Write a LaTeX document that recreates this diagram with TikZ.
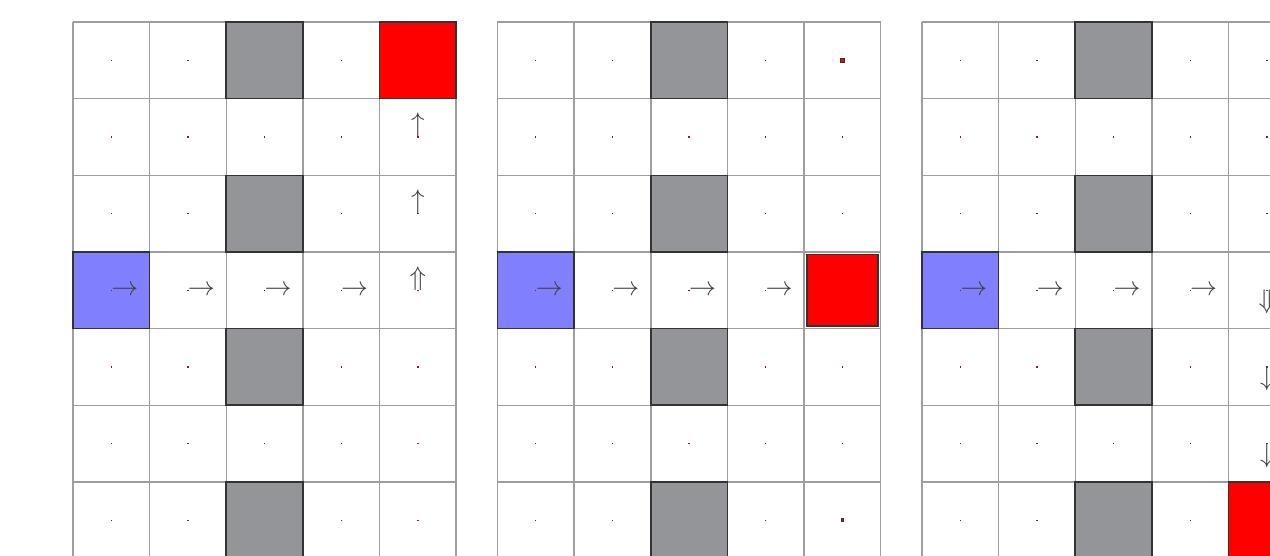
\documentclass[tikz,border=0pt]{standalone}
\begin{document}
\definecolor{wallgray}{HTML}{939598}
\definecolor{startblue}{HTML}{8080FF}
\definecolor{goalred}{HTML}{FF0000}
\definecolor{dotred}{HTML}{8B1A1A}
\begin{tikzpicture}[x=1cm,y=1cm,
  gridline/.style={draw=black!38, line width=0.55pt},
  cellbox/.style={minimum size=1cm, inner sep=0pt, outer sep=0pt, draw=black!80, line width=0.6pt},
  wall/.style={cellbox, fill=wallgray},
  startcell/.style={cellbox, fill=startblue},
  goalcell/.style={cellbox, fill=goalred},
  goalsmall/.style={cellbox, fill=goalred, minimum size=0.93cm},
  goaldot/.style={fill=goalred, draw=black!80, line width=0.3pt, inner sep=0pt, outer sep=0pt, minimum size=0.05cm},
  valdot/.style={fill=dotred, inner sep=0pt, outer sep=0pt, minimum size=0.018cm},
  arr/.style={inner sep=0pt, outer sep=0pt, text=black!75}
]
\useasboundingbox (-0.952,0.287) rectangle (15.617,-6.954);
\foreach \g in {0,1,2} {
  \begin{scope}[xshift=\g*5.538cm]
    \draw[gridline] (0,-7) grid (5,0);
    % value dots
    \foreach \c in {0,1,3,4} {
      \foreach \r in {0,...,6} {
        \node[valdot] (g\g d\c\r) at (\c+0.5,-\r-0.5) {};
      }
    }
    \foreach \r in {1,3,5} {
      \node[valdot] (g\g d2\r) at (2.5,-\r-0.5) {};
    }
    % walls
    \foreach \r in {0,2,4,6} {
      \node[wall] (g\g w\r) at (2.5,-\r-0.5) {};
    }
    % start
    \node[startcell] (g\g s) at (0.5,-3.5) {};
    \node[valdot] (g\g sd) at (0.5,-3.5) {};
    % right arrows
    \foreach \c in {0,...,3} {
      \node[arr, anchor=west] (g\g a\c) at (\c+0.5,-3.5) {$\rightarrow$};
    }
  \end{scope}
}
% grid 1
\node[goalcell] (g0goal) at (4.5,-0.5) {};
\node[arr, anchor=south] (g0u1) at (4.5,-1.5) {$\uparrow$};
\node[arr, anchor=south] (g0u2) at (4.5,-2.5) {$\uparrow$};
\node[arr, anchor=south] (g0u3) at (4.5,-3.5) {$\Uparrow$};
% grid 2
\begin{scope}[xshift=5.538cm]
  \node[goalsmall] (g1goal) at (4.5,-3.5) {};
  \node[goaldot] (g1top) at (4.5,-0.5) {};
  \node[goaldot, minimum size=0.035cm] (g1bot) at (4.5,-6.5) {};
\end{scope}
% grid 3
\begin{scope}[xshift=11.076cm]
  \node[goalcell] (g2goal) at (4.5,-6.5) {};
  \node[arr, anchor=north] (g2d3) at (4.5,-3.5) {$\Downarrow$};
  \node[arr, anchor=north] (g2d4) at (4.5,-4.5) {$\downarrow$};
  \node[arr, anchor=north] (g2d5) at (4.5,-5.5) {$\downarrow$};
\end{scope}
\end{tikzpicture}
\end{document}
